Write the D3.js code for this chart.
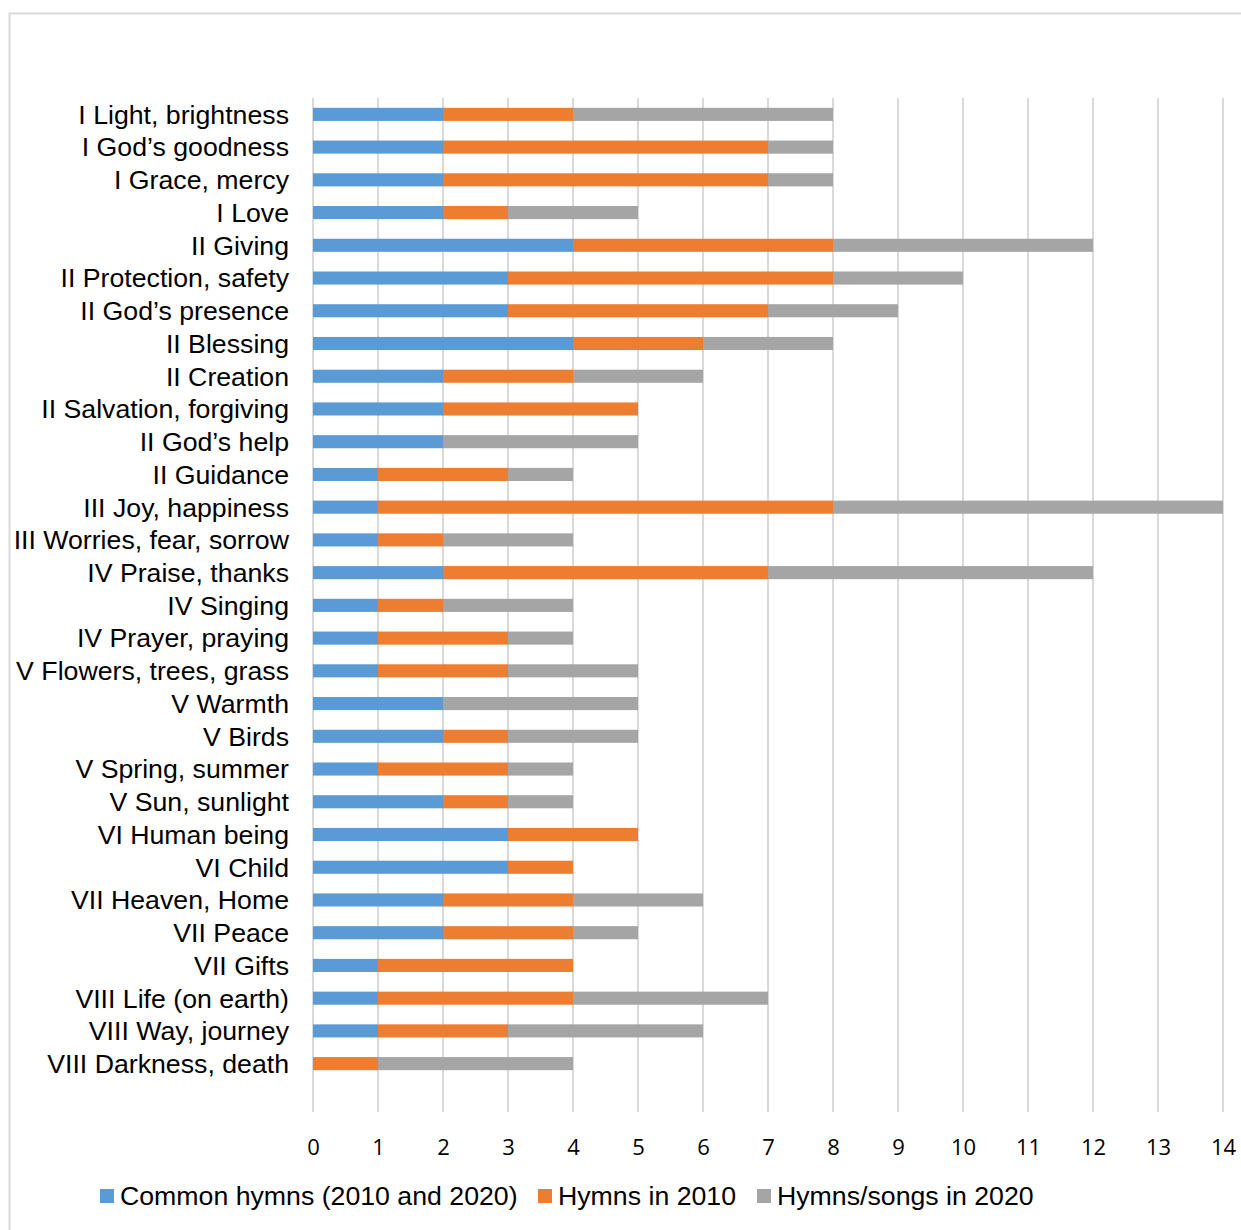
<!DOCTYPE html>
<html>
<head>
<meta charset="utf-8">
<script src="https://cdn.jsdelivr.net/npm/d3@7"></script>
<style>
  body { margin: 0; background: #fff; }
  svg { display: block; }
</style>
</head>
<body>
<div id="chart"></div>
<script>
// categories, top to bottom
const categories = [
  "I Light, brightness", "I God\u2019s goodness", "I Grace, mercy", "I Love ",
  "II Giving", "II Protection, safety", "II God\u2019s presence", "II Blessing",
  "II Creation", "II Salvation, forgiving", "II God\u2019s help", "II Guidance",
  "III Joy, happiness", "III Worries, fear, sorrow", "IV Praise, thanks",
  "IV Singing", "IV Prayer, praying", "V Flowers, trees, grass", "V Warmth",
  "V Birds", "V Spring, summer", "V Sun, sunlight", "VI Human being",
  "VI Child", "VII Heaven, Home", "VII Peace", "VII Gifts",
  "VIII Life (on earth)", "VIII Way, journey", "VIII Darkness, death"
];
const common = [2,2,2,2,4,3,3,4,2,2,2,1,1,1,2,1,1,1,2,2,1,2,3,3,2,2,1,1,1,0];
const hymns2010 = [2,5,5,1,4,5,4,2,2,3,0,2,7,1,5,1,2,2,0,1,2,1,2,1,2,2,3,3,2,1];
const songs2020 = [4,1,1,2,4,2,2,2,2,0,3,1,6,2,5,2,1,2,3,2,1,1,0,0,2,1,0,3,3,3];
const seriesNames = ["Common hymns (2010 and 2020)", "Hymns in 2010", "Hymns/songs in 2020"];
const colors = ["#5B9BD5", "#ED7D31", "#A5A5A5"];
const xTicks = d3.range(0, 15);

const W = 1241, H = 1230;
const svg = d3.select("#chart").append("svg").attr("width", W).attr("height", H);

// chart border (right and bottom edges fall outside the picture)
svg.append("rect").attr("x", 9.5).attr("y", 13.5).attr("width", 1260).attr("height", 1260)
  .attr("fill", "none").attr("stroke", "#d9d9d9").attr("stroke-width", 2);

const x = d3.scaleLinear().domain([0, 14]).range([313, 1223]);
const y = d3.scaleBand().domain(categories).range([98, 1080]).paddingInner(0.6).paddingOuter(0.3);

// gridlines
svg.append("g").selectAll("line").data(xTicks).join("line")
  .attr("x1", d => x(d)).attr("x2", d => x(d))
  .attr("y1", 98).attr("y2", 1112)
  .attr("stroke", "#d9d9d9").attr("stroke-width", 2);

const rows = categories.map((c, i) => ({ cat: c, common: common[i], y2010: hymns2010[i], y2020: songs2020[i] }));
const stack = d3.stack().keys(["common", "y2010", "y2020"])(rows);

svg.append("g").selectAll("g").data(stack).join("g")
  .attr("fill", (d, i) => colors[i])
  .selectAll("rect").data(d => d).join("rect")
  .attr("x", d => x(d[0]))
  .attr("width", d => x(d[1]) - x(d[0]))
  .attr("y", d => y(d.data.cat))
  .attr("height", y.bandwidth());

// category labels
svg.append("g").selectAll("text").data(categories).join("text")
  .attr("x", 289).attr("y", d => y(d) + y.bandwidth() / 2)
  .attr("dy", "0.35em").attr("text-anchor", "end")
  .attr("font-family", "Liberation Sans, Arial, sans-serif").attr("font-size", 26.7)
  .attr("fill", "#000").text(d => d);

// x axis labels
const xAxis = svg.append("g").attr("transform", "translate(0,1147)")
  .call(d3.axisBottom(x).tickValues(xTicks).tickSize(0).tickPadding(0));
xAxis.select(".domain").remove();
xAxis.selectAll("text")
  .attr("dy", "0.35em").attr("y", 0)
  .attr("font-family", "Open Sans, sans-serif").attr("font-size", 22).attr("fill", "#000");

// legend
const legendX = [100, 538, 757];
const lg = svg.append("g").selectAll("g").data(seriesNames).join("g")
  .attr("transform", (d, i) => `translate(${legendX[i]},1196)`);
lg.append("rect").attr("x", 0).attr("y", -7).attr("width", 14).attr("height", 14)
  .attr("fill", (d, i) => colors[i]);
lg.append("text").attr("x", 20).attr("dy", "0.35em")
  .attr("font-family", "Liberation Sans, Arial, sans-serif").attr("font-size", 26.7)
  .attr("fill", "#000").text(d => d);
</script>
</body>
</html>
